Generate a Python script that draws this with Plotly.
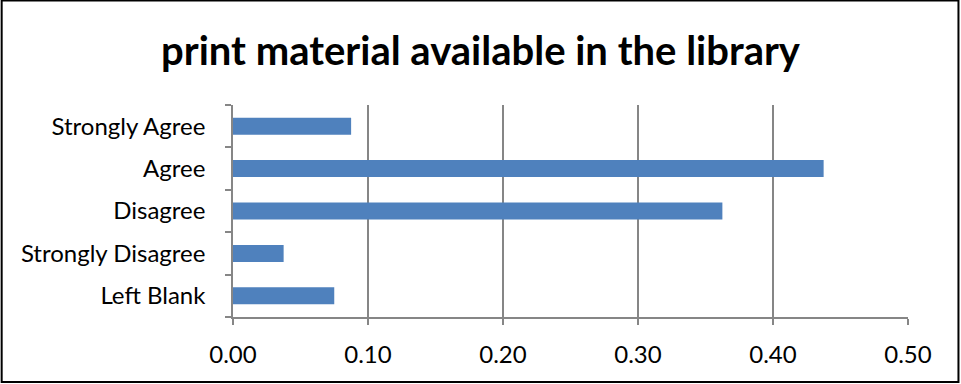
import plotly.graph_objects as go

# Survey responses: "print material available in the library"
categories = ["Left Blank", "Strongly Disagree", "Disagree", "Agree", "Strongly Agree"]
proportions = [0.075, 0.0375, 0.3625, 0.4375, 0.0875]
x_ticks = [0.0, 0.1, 0.2, 0.3, 0.4, 0.5]
x_tick_labels = ["0.00", "0.10", "0.20", "0.30", "0.40", "0.50"]

W, H = 961, 384
L, R, T, B = 232.5, 53, 105, 67

fig = go.Figure(
    go.Bar(
        x=proportions,
        y=categories,
        orientation="h",
        marker=dict(color="#4F81BD", line=dict(width=0)),
        width=0.4,
    )
)

axis_color = "#868686"
font_family = "Lato, 'Open Sans', sans-serif"

fig.update_layout(
    width=W,
    height=H,
    margin=dict(l=L, r=R, t=T, b=B),
    paper_bgcolor="white",
    plot_bgcolor="white",
    showlegend=False,
    title=dict(
        text="<b>print material available in the library</b>",
        x=0.5,
        xref="container",
        xanchor="center",
        y=1 - 51 / H,
        yref="container",
        yanchor="middle",
        font=dict(family=font_family, size=40, color="black"),
    ),
    xaxis=dict(
        range=[0, 0.5],
        tickvals=x_ticks,
        ticktext=x_tick_labels,
        showgrid=True,
        gridcolor=axis_color,
        gridwidth=1.5,
        zeroline=False,
        showline=True,
        linecolor=axis_color,
        linewidth=1.5,
        ticks="outside",
        ticklen=6,
        tickcolor=axis_color,
        tickwidth=1.5,
        tickfont=dict(family=font_family, size=24, color="black"),
        ticklabelstandoff=9,
    ),
    yaxis=dict(
        type="category",
        categoryorder="array",
        categoryarray=categories,
        tickson="boundaries",
        showgrid=False,
        showline=True,
        linecolor=axis_color,
        linewidth=1.5,
        ticks="outside",
        ticklen=6,
        tickcolor=axis_color,
        tickwidth=1.5,
        tickfont=dict(family=font_family, size=24, color="black"),
        ticklabelstandoff=21,
    ),
)

# Outer chart border, placed in pixel terms relative to the plot area
pw = W - L - R
ph = H - T - B
left_px, right_px, top_px, bottom_px = 1, 958.5, 0.5, 382
fig.add_shape(
    type="rect",
    xref="paper",
    yref="paper",
    x0=(left_px - L) / pw,
    x1=(right_px - L) / pw,
    y0=(H - B - bottom_px) / ph,
    y1=(H - B - top_px) / ph,
    line=dict(color="black", width=2),
    fillcolor="rgba(0,0,0,0)",
    layer="above",
)

fig.write_html("out.html")
